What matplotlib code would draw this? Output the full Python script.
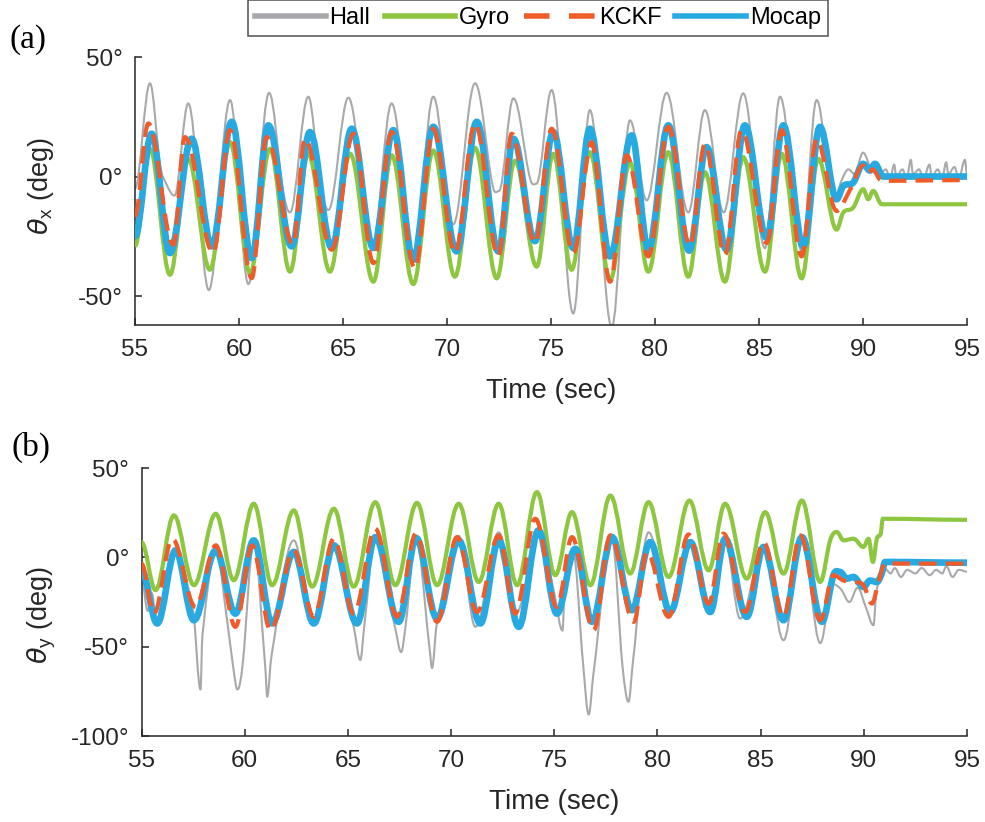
import matplotlib
matplotlib.use("Agg")
import matplotlib.pyplot as plt
from matplotlib.path import Path
from matplotlib.patches import PathPatch
from matplotlib.lines import Line2D

plt.rcParams['font.family'] = ['Liberation Sans', 'DejaVu Sans']

# ---- panel (a): theta_x, turning points (time s, deg) ----
t_hall_x = [55.0, 55.72, 56.2, 56.5, 56.9, 57.56, 58.55, 59.57, 60.45, 61.45, 62.1, 62.45,
            63.33, 63.9, 64.3, 65.26, 66.4, 67.34, 68.4, 69.34, 70.3, 71.35, 72.2, 72.5,
            73.19, 74.0, 74.3, 75.03, 76.07, 76.87, 77.92, 78.8, 79.6, 80.56, 81.6, 82.4,
            83.3, 84.24, 85.29, 86.01, 87.05, 87.77, 88.6, 89.0, 89.3, 89.6, 90.0, 90.4, 90.8,
            91.1, 91.3, 91.5, 91.6, 91.9, 92.1, 92.3, 92.4, 92.7, 92.9, 93.2, 93.3, 93.6,
            93.8, 94.0, 94.1, 94.4, 94.6, 94.9, 95.0]
v_hall_x = [-5, 39, 5, -3, -8, 30.6, -47.5, 32, -45, 35, -5, -15,
            33.4, -3, -14, 33, -30, 30.6, -35, 33.4, -20, 39, -4, -6,
            32.7, -1, -3, 36.2, -57.3, 27.8, -63, 23.5, -10, 35, -15, 27.8,
            -15, 34.8, -30, 33.4, -31, 32, -9.5, -1, 3, 1, 10, 3, 1,
            3, -1, 5, 0, 3, -1, 7, 1, 3, -1, 5, 0, 3,
            -1, 6, 1, 4, -1, 7, 1]

t_gyro_x = [55.0, 55.72, 56.68, 57.56, 58.6, 59.57, 60.53, 61.49, 62.45, 63.33, 64.37, 65.34,
            66.46, 67.34, 68.38, 69.34, 70.38, 71.35, 72.39, 73.27, 74.31, 75.11, 75.99, 76.87,
            77.84, 78.8, 79.68, 80.64, 81.6, 82.4, 83.36, 84.24, 85.29, 86.09, 87.05, 87.85,
            88.73, 89.05, 89.53, 90.01, 90.25, 90.49, 90.9, 95.0]
v_gyro_x = [-29, 11.6, -41.1, 7.4, -39, 14.4, -40.5, 11.6, -39.8, 9.5, -39.8, 9.5,
            -44, 8.9, -45, 10.9, -41.9, 12, -42.6, 6.6, -37.7, 9.5, -39, 10.2,
            -43.3, 5.9, -39.8, 10.2, -41.9, 1.8, -44, 8.1, -39.8, 9.5, -42.6, 7.4,
            -22.2, -15.1, -13, -5.3, -9.5, -6, -11.6, -11.6]

t_kckf_x = [55.0, 55.64, 56.84, 57.40, 58.76, 59.57, 60.61, 61.33, 62.6, 63.17, 64.46, 65.5,
            66.46, 67.34, 68.46, 69.34, 70.38, 71.35, 72.47, 73.11, 74.23, 75.03, 76.07, 76.95,
            77.84, 78.64, 79.68, 80.64, 81.68, 82.4, 83.36, 84.16, 85.37, 86.09, 87.05, 87.77,
            88.73, 89.35, 90.01, 90.25, 90.45, 90.9, 95.0]
v_kckf_x = [-16.5, 22.2, -28.5, 16.5, -32, 19.4, -42.5, 16.5, -28.5, 15.8, -30.6, 17.9,
            -36.2, 18.6, -38.5, 20, -32, 22.2, -33.4, 17.9, -27.8, 20, -32, 14.4,
            -44, 8.9, -33.4, 20.8, -29, 13.6, -32.7, 19.4, -27.8, 19.4, -33.4, 15.8,
            -14.4, -6, 4.6, 1.5, 3, -1.8, -1.5]

t_mocap_x = [55.0, 55.80, 56.68, 57.72, 58.69, 59.65, 60.61, 61.41, 62.53, 63.41, 64.46, 65.42,
             66.46, 67.42, 68.38, 69.34, 70.46, 71.43, 72.47, 73.19, 74.23, 75.11, 76.07, 76.87,
             77.84, 78.88, 79.68, 80.64, 81.64, 82.48, 83.44, 84.32, 85.37, 86.17, 87.13, 87.93,
             88.73, 89.05, 89.53, 90.01, 90.33, 90.57, 90.97, 95.0]
v_mocap_x = [-25, 17.9, -32, 15.8, -29.2, 22.9, -34.1, 21.4, -29.2, 18.6, -29.9, 20,
             -29.9, 19.4, -34.8, 20.8, -31.3, 22.9, -31.3, 15.8, -27, 18.6, -29.9, 20,
             -33.4, 17.2, -30.6, 21.4, -31, 12.3, -30.6, 21.4, -25.7, 21.4, -29.2, 20.8,
             -9.5, -4, -2.5, 5.3, 2.5, 5.3, 0, 0]

# ---- panel (b): theta_y ----
t_hall_y = [55.0, 55.3, 55.5, 55.7, 56.57, 57.5, 57.86, 57.95, 58.6, 59.2, 59.45, 59.65, 59.9,
            60.44, 61.0, 61.09, 61.3, 62.38, 63.3, 64.32, 65.3, 65.6, 65.8, 66.33, 67.3, 67.58,
            67.8, 68.3, 68.95, 69.08, 69.3, 70.37, 71.18, 72.31, 73.2, 74.24, 75.0, 75.4, 75.5,
            75.9, 76.4, 76.67, 76.9, 77.8, 78.3, 78.6, 78.8, 79.57, 80.6, 81.6, 82.5, 83.28,
            84.01, 85.14, 86.11, 87.0, 87.89, 88.5, 88.9, 89.3, 89.7, 90.1, 90.47, 90.6, 90.9,
            91.0, 91.3, 91.5, 91.8, 92.1, 92.5, 92.8, 93.2, 93.5, 93.8, 94.0, 94.3, 94.6, 95.0]
v_hall_y = [-11, -30, -20, -35, 2.2, -30, -74, -44, 3.9, -40, -62, -74, -60,
            8, -62, -78, -55, 9.5, -38, 5, -40, -57.5, -38, 11, -40, -53,
            -38, 10, -50, -62, -38, 12, -38.9, 14, -30, 16, -20, -41, -20,
            3.9, -60, -88, -65, 10, -60, -80.8, -60, 14, -30, 9, -25, 9,
            -34.3, 6, -46.4, 11, -48, -15, -18, -25, -17, -28, -38, -20, -8,
            -6, -9, -6, -11, -7, -9, -6, -10, -7, -9, -5, -11, -7, -8]

t_gyro_y = [55.0, 55.68, 56.57, 57.54, 58.6, 59.47, 60.44, 61.33, 62.38, 63.27, 64.32, 65.28,
            66.33, 67.3, 68.35, 69.32, 70.37, 71.34, 72.31, 73.2, 74.16, 75.05, 75.86, 76.75,
            77.72, 78.68, 79.57, 80.54, 81.55, 82.48, 83.28, 84.33, 85.22, 86.11, 87.0, 87.89,
            88.37, 88.69, 89.02, 89.5, 89.98, 90.23, 90.44, 90.63, 90.82, 90.92, 95.0]
v_gyro_y = [8.5, -18.4, 23.5, -15.6, 24.4, -12.8, 30, -15.6, 26.3, -16.4, 27.2, -16.4,
            30.9, -15.6, 30.5, -15.6, 30, -13.8, 30, -15.6, 36.5, -10, 25.3, -15.6,
            34.6, -9.1, 30.9, -11, 31.8, -7.3, 30, -11.9, 25.3, -9.1, 31.8, -13.8,
            9.5, 14.2, 9.5, 10.4, 5.8, 10.4, -2.6, 10.4, 13.3, 21.6, 21]

t_kckf_y = [55.0, 55.6, 56.49, 57.62, 58.6, 59.55, 60.36, 61.25, 62.38, 63.35, 64.32, 65.28,
            66.33, 67.38, 68.3, 69.32, 70.29, 71.26, 72.31, 73.11, 74.08, 75.13, 75.86, 76.91,
            77.72, 78.85, 79.49, 80.54, 81.51, 82.48, 83.2, 84.25, 85.14, 86.11, 86.92, 87.89,
            88.53, 89.02, 89.5, 89.98, 90.39, 90.71, 90.95, 91.1, 95.0]
v_kckf_y = [-3.5, -31.5, 10.4, -27.8, 6.7, -38.9, 6.7, -40.8, 3.9, -33.3, 10.4, -31.5,
            16, -33.3, 13.3, -36.1, 11.3, -30.6, 12.3, -31.5, 21.6, -27.8, 11.3, -40.8,
            12.3, -36.1, 3, -33.3, 12.8, -25.9, 13.3, -30.6, 8.5, -33.3, 12.3, -35.2,
            -10, -13, -13.8, -15.6, -25.9, -13.8, -4.5, -3.5, -3.5]

t_mocap_y = [55.0, 55.76, 56.65, 57.54, 58.6, 59.55, 60.44, 61.33, 62.38, 63.35, 64.32, 65.44,
             66.33, 67.46, 68.31, 69.32, 70.37, 71.42, 72.31, 73.28, 74.24, 75.13, 76.02, 76.83,
             77.8, 78.76, 79.65, 80.62, 81.59, 82.56, 83.28, 84.33, 85.14, 86.11, 87.0, 87.97,
             88.53, 88.85, 89.18, 89.5, 89.98, 90.3, 90.63, 90.87, 91.03, 95.0]
v_mocap_y = [-7.3, -37, 3.9, -35.2, 3.9, -31.5, 9.5, -37, 3, -37, 6.7, -37,
             11.3, -36.1, 10.8, -34.3, 9.5, -37, 9.5, -38.9, 15.1, -31.5, 4.8, -36.1,
             11.3, -29.6, 8.5, -30.6, 8.5, -30.6, 10.4, -33.3, 5.8, -35.2, 11.3, -36.1,
             -10, -8.2, -11.9, -11, -16.6, -13, -13.8, -9, -2.6, -3]

x_ticks = [55, 60, 65, 70, 75, 80, 85, 90, 95]
series_names = ["Hall", "Gyro", "KCKF", "Mocap"]

C_HALL = "#A7A9AC"
C_GYRO = "#8DC63F"
C_KCKF = "#F15A29"
C_MOCAP = "#27AAE1"
STYLES = {
    "Hall": dict(color=C_HALL, lw=1.5, ls="-", z=2),
    "Gyro": dict(color=C_GYRO, lw=3.0, ls="-", z=3),
    "KCKF": dict(color=C_KCKF, lw=3.0, ls=(0, (4.2, 2.2)), z=5),
    "Mocap": dict(color=C_MOCAP, lw=4.8, ls="-", z=4),
}
TXT = "#262626"


def smooth_path(t, v):
    """Cubic Bezier through the turning points; flat tangent at extrema."""
    n = len(t)
    slopes = []
    for i in range(n):
        if i == 0 or i == n - 1:
            slopes.append(0.0)
            continue
        if (v[i] - v[i - 1]) * (v[i + 1] - v[i]) <= 0:
            slopes.append(0.0)
        else:
            slopes.append((v[i + 1] - v[i - 1]) / (t[i + 1] - t[i - 1]))
    verts = [(t[0], v[0])]
    codes = [Path.MOVETO]
    for i in range(1, n):
        dt = t[i] - t[i - 1]
        k = 0.36 * dt
        verts += [(t[i - 1] + k, v[i - 1] + slopes[i - 1] * k),
                  (t[i] - k, v[i] - slopes[i] * k),
                  (t[i], v[i])]
        codes += [Path.CURVE4] * 3
    return Path(verts, codes)


def draw(ax, name, t, v):
    s = STYLES[name]
    ax.add_patch(PathPatch(smooth_path(t, v), fill=False, edgecolor=s["color"],
                           lw=s["lw"], linestyle=s["ls"], zorder=s["z"],
                           capstyle="butt", joinstyle="round"))


def style_axes(ax, ylim, yticks, ylabel, label_xy):
    ax.set_xlim(55, 95)
    ax.set_ylim(*ylim)
    ax.set_xticks(x_ticks)
    ax.set_yticks(yticks)
    ax.set_yticklabels([f"{y}°" for y in yticks])
    for side in ("top", "right"):
        ax.spines[side].set_visible(False)
    for side in ("left", "bottom"):
        ax.spines[side].set_linewidth(1.1)
        ax.spines[side].set_color(TXT)
    ax.tick_params(direction="in", length=5, width=1.1, colors=TXT, labelsize=17.5)
    ax.tick_params(axis="x", pad=10)
    ax.tick_params(axis="y", pad=9)
    ax.set_xlabel("Time (sec)", fontsize=20, color=TXT, labelpad=12)
    ax.set_ylabel(ylabel, fontsize=19.5, color=TXT)
    ax.yaxis.set_label_coords(*label_xy)


fig = plt.figure(figsize=(9.85, 8.22), dpi=100)
ax1 = fig.add_axes([135 / 985, 1 - 325 / 822, (967 - 135) / 985, (325 - 57) / 822])
ax2 = fig.add_axes([141.5 / 985, 1 - 736 / 822, (967 - 141.5) / 985, (736 - 468) / 822])

draw(ax1, "Hall", t_hall_x, v_hall_x)
draw(ax1, "Gyro", t_gyro_x, v_gyro_x)
draw(ax1, "Mocap", t_mocap_x, v_mocap_x)
draw(ax1, "KCKF", t_kckf_x, v_kckf_x)

draw(ax2, "Hall", t_hall_y, v_hall_y)
draw(ax2, "Gyro", t_gyro_y, v_gyro_y)
draw(ax2, "Mocap", t_mocap_y, v_mocap_y)
draw(ax2, "KCKF", t_kckf_y, v_kckf_y)

style_axes(ax1, (-62.1, 50), [-50, 0, 50], r"$\theta_{\mathregular{x}}$ (deg)", (-0.095, 0.52))
style_axes(ax2, (-100, 50), [-100, -50, 0, 50], r"$\theta_{\mathregular{y}}$ (deg)", (-0.101, 0.45))

fig.text(28 / 985, 1 - 40 / 822, "(a)", family="Liberation Serif", fontsize=24,
         ha="center", va="center")
fig.text(31 / 985, 1 - 447 / 822, "(b)", family="Liberation Serif", fontsize=24,
         ha="center", va="center")

handles = [Line2D([], [], color=STYLES[n]["color"], lw=4.0,
                  linestyle="-" if n != "KCKF" else (0, (4.6, 3.5)))
           for n in series_names]
leg = fig.legend(handles, series_names, loc="upper center", bbox_to_anchor=(538 / 985, 1.0),
                 ncol=4, fontsize=17, frameon=True, fancybox=False, edgecolor=TXT,
                 handlelength=3.0, handletextpad=0.15, columnspacing=0.6,
                 borderpad=0.3, borderaxespad=0.0)
leg.get_frame().set_linewidth(1.1)

fig.savefig("out.png", dpi=100)
